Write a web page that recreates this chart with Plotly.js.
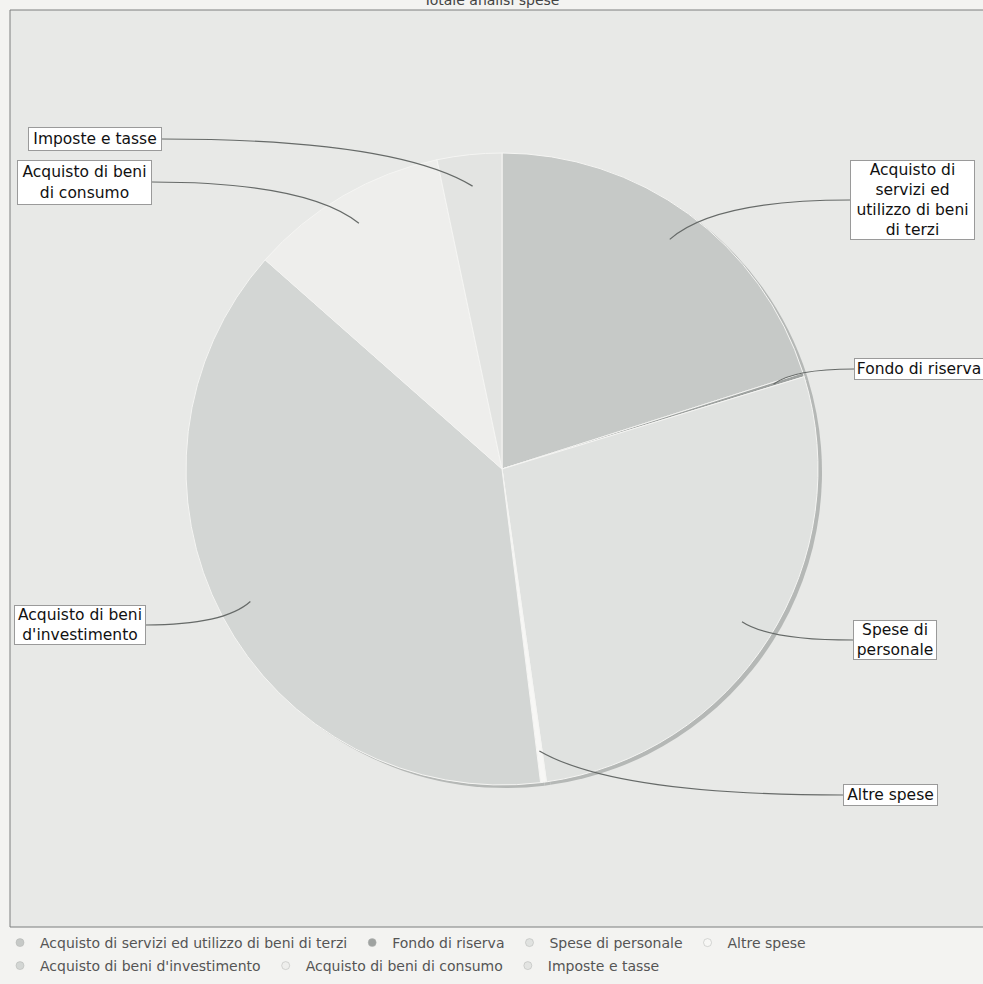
<!DOCTYPE html>
<html>
<head>
<meta charset="utf-8">
<script src="https://cdn.plot.ly/plotly-3.0.1.min.js"></script>
<style>html,body{margin:0;padding:0;background:#f3f3f1;}#chart{width:983px;height:984px;}</style>
</head>
<body>
<div id="chart"></div>
<script>
// ---- data ----
const chartTitle = "Totale analisi spese";
const categories = [
  "Acquisto di servizi ed utilizzo di beni di terzi",
  "Fondo di riserva",
  "Spese di personale",
  "Altre spese",
  "Acquisto di beni d'investimento",
  "Acquisto di beni di consumo",
  "Imposte e tasse"
];
const values = [20.1, 0.2, 27.5, 0.3, 38.5, 10.2, 3.3];
const calloutLabels = [
  "Acquisto di<br>servizi ed<br>utilizzo di beni<br>di terzi",
  "Fondo di riserva",
  "Spese di<br>personale",
  "Altre spese",
  "Acquisto di beni<br>d'investimento",
  "Acquisto di beni<br>di consumo",
  "Imposte e tasse"
];
const legendRow = [1, 1, 1, 1, 2, 2, 2];
const sliceColors = ["#c6c9c7", "#9ea2a0", "#e0e2e0", "#f7f7f5", "#d3d6d4", "#eeeeec", "#e3e4e2"];

// ---- layout geometry (pixels) ----
const W = 983, H = 984;
const M = {l: 10, r: 0, t: 10, b: 57};
const pw = W - M.l - M.r, ph = H - M.t - M.b;
const cxPx = 502, cyPx = 469, R = 316;
const toPx = (px) => (px - M.l) / pw;
const toPy = (py) => (M.t + ph - py) / ph;
const domain = {x: [toPx(cxPx - R), toPx(cxPx + R)], y: [toPy(cyPx + R), toPy(cyPx - R)]};
const shadowDomain = {x: [toPx(cxPx - R + 4), toPx(cxPx + R + 4)], y: [toPy(cyPx + R + 3), toPy(cyPx - R + 3)]};

// callout boxes: [edge x, centre y, width, height, side of the pie]
const boxes = [
  [850, 200, 123, 78, "right"],
  [854, 369, 128, 20, "right"],
  [853, 640, 82, 38, "right"],
  [843, 795, 93, 20, "right"],
  [146, 625, 130, 38, "left"],
  [152, 182, 133, 43, "left"],
  [162, 139, 132, 22, "left"]
];

const total = values.reduce((a, b) => a + b, 0);
let cum = 0;
const annotations = [];
const shapes = [{type: "rect", xref: "paper", yref: "paper", x0: 0, x1: 1.01, y0: 0, y1: 1,
                 line: {color: "#7d7f7e", width: 1}, fillcolor: "rgba(0,0,0,0)", layer: "above"}];
values.forEach((v, i) => {
  const mid = (cum + v / 2) / total * 2 * Math.PI;
  cum += v;
  const px = cxPx + 0.9 * R * Math.sin(mid);
  const py = cyPx - 0.9 * R * Math.cos(mid);
  const [ex, ey, bw, bh, side] = boxes[i];
  annotations.push({
    x: toPx(ex), y: toPy(ey), xref: "paper", yref: "paper",
    xanchor: side === "right" ? "left" : "right", yanchor: "middle",
    text: calloutLabels[i], showarrow: false, width: bw, height: bh,
    bgcolor: "#ffffff", bordercolor: "#9a9a9a", borderwidth: 1, borderpad: 0,
    font: {family: "DejaVu Sans, sans-serif", size: 15.5, color: "#111"},
    align: "center", valign: "middle"
  });
  const qx = ex + 0.75 * (px - ex), qy = ey;
  shapes.push({
    type: "path", xref: "paper", yref: "paper",
    path: `M ${toPx(ex)},${toPy(ey)} Q ${toPx(qx)},${toPy(qy)} ${toPx(px)},${toPy(py)}`,
    line: {color: "#666a68", width: 1.2}, layer: "above"
  });
});

const traces = [
  {
    type: "pie", labels: categories.map(c => c + " "), values: values, sort: false, direction: "clockwise",
    rotation: 0, domain: shadowDomain, textinfo: "none", hoverinfo: "skip", showlegend: false,
    marker: {colors: categories.map(() => "#b5b8b6"), line: {width: 0}}
  },
  {
    type: "pie", labels: categories, values: values, sort: false, direction: "clockwise",
    rotation: 0, domain: domain, textinfo: "none", showlegend: false,
    marker: {colors: sliceColors, line: {color: "#f5f5f3", width: 1}}
  }
];
// legend entries (one per category) split over two rows as in the reference
categories.forEach((c, i) => {
  traces.push({
    type: "scatter", mode: "markers", x: [null], y: [null], name: c,
    legend: legendRow[i] === 1 ? "legend" : "legend2",
    marker: {color: sliceColors[i], size: 8, symbol: "circle", line: {color: "#b0b3b1", width: 0.5}}
  });
});

const legendBase = {orientation: "h", xref: "container", x: 0, xanchor: "left", yref: "container",
  yanchor: "middle", font: {family: "DejaVu Sans, sans-serif", size: 14, color: "#555"},
  itemwidth: 30, bgcolor: "rgba(0,0,0,0)", borderwidth: 0};

const layout = {
  width: W, height: H,
  margin: M,
  paper_bgcolor: "#f3f3f1",
  plot_bgcolor: "#e8e9e7",
  font: {family: "DejaVu Sans, sans-serif", color: "#555"},
  title: {text: chartTitle, x: 0.5, xanchor: "center", y: 1, yref: "container", yanchor: "middle",
          font: {size: 14, color: "#444"}},
  xaxis: {visible: false}, yaxis: {visible: false},
  shapes: shapes,
  annotations: annotations,
  legend: Object.assign({}, legendBase, {y: (H - 943) / H}),
  legend2: Object.assign({}, legendBase, {y: (H - 966) / H})
};

Plotly.newPlot("chart", traces, layout, {displayModeBar: false, staticPlot: true});
</script>
</body>
</html>
